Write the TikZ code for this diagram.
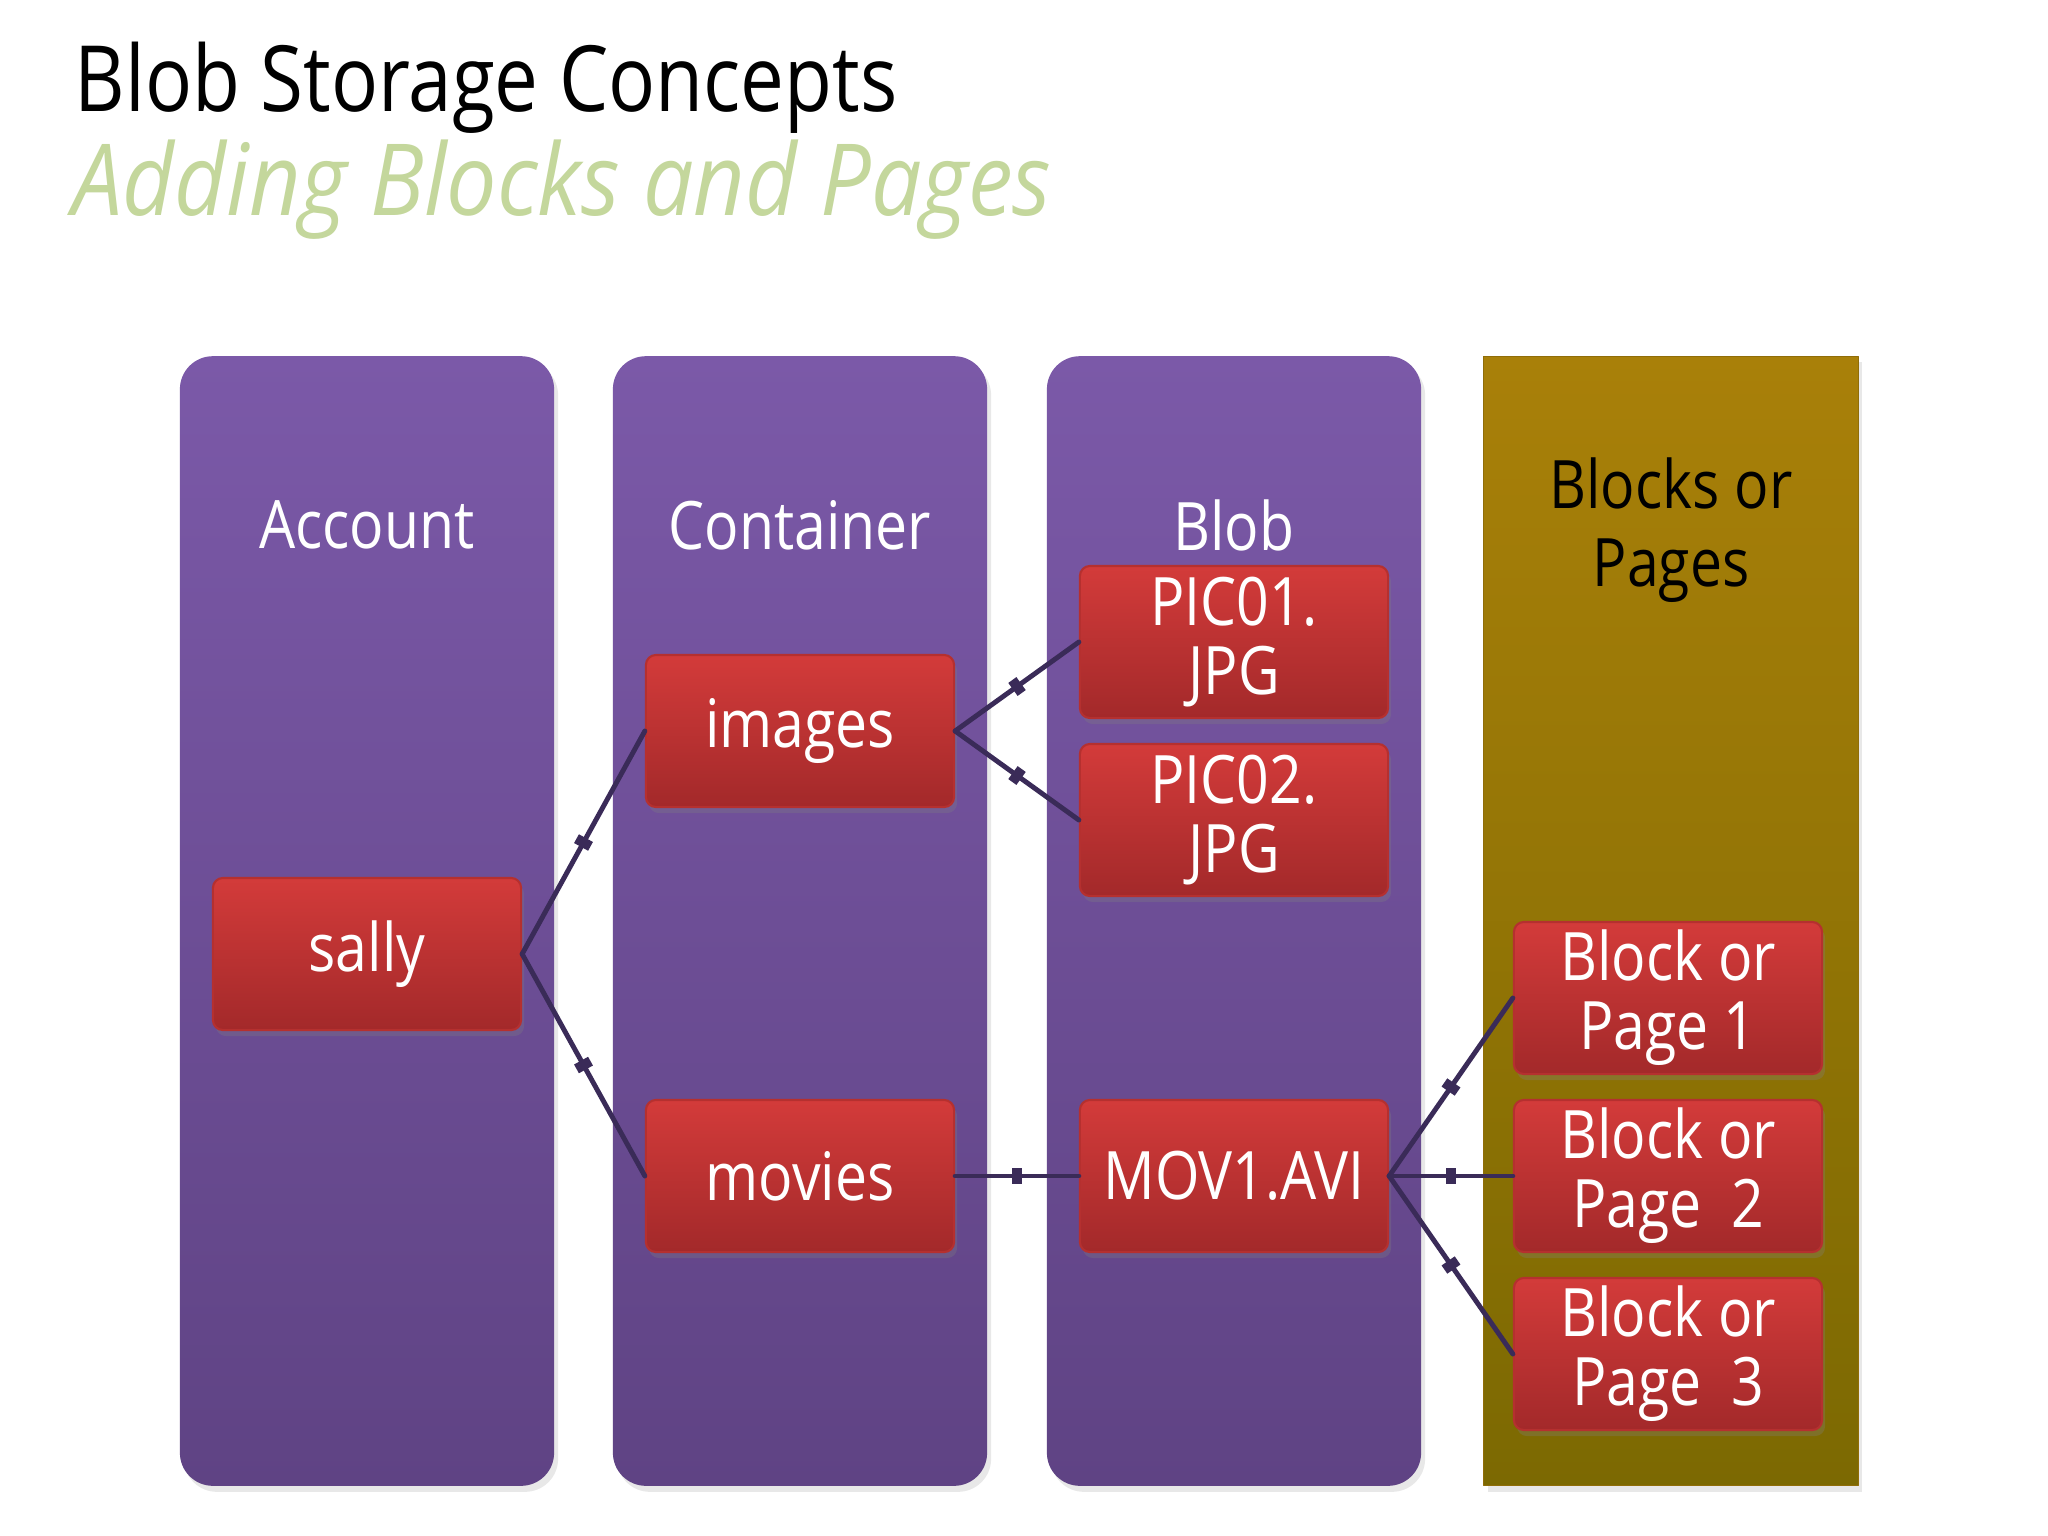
\documentclass[tikz,border=0pt]{standalone}
\usepackage{fontspec}
\setmainfont{Open Sans}[FakeStretch=0.855]
\newfontfamily\subfont{Open Sans}[FakeStretch=0.9]
\usetikzlibrary{positioning,shadows}
\definecolor{colTop}{HTML}{7B59A8}
\definecolor{colBot}{HTML}{5F4384}
\definecolor{goldTop}{HTML}{A98009}
\definecolor{goldBot}{HTML}{7C6902}
\definecolor{boxTop}{HTML}{D33B3A}
\definecolor{boxBot}{HTML}{A3292A}
\definecolor{boxEdge}{HTML}{B5302F}
\definecolor{linkc}{HTML}{3A2B58}
\definecolor{subgreen}{HTML}{C4D79C}
\begin{document}
\begin{tikzpicture}[x=0.01cm,y=-0.01cm,font=\fontsize{19}{23}\selectfont, line join=round, line cap=round]
	\tikzset{
		column/.style={rounded corners=0.33cm, minimum width=3.74cm, minimum height=11.29cm, inner sep=0pt, top color=colTop, bottom color=colBot, drop shadow={shadow xshift=0.4mm, shadow yshift=-0.6mm, opacity=0.18}},
		pagecol/.style={minimum width=3.74cm, minimum height=11.29cm, inner sep=0pt, top color=goldTop, bottom color=goldBot, draw=goldTop!85!black, line width=0.3pt, drop shadow={shadow xshift=0.4mm, shadow yshift=-0.6mm, opacity=0.18}},
		collabel/.style={text=white, align=center},
		item/.style={rounded corners=0.1cm, minimum width=3.08cm, minimum height=1.52cm, inner sep=0pt, top color=boxTop, bottom color=boxBot, draw=boxEdge, line width=0.6pt, text=white, align=center, font=\fontsize{19}{19.6}\selectfont, drop shadow={shadow xshift=0.3mm, shadow yshift=-0.6mm, opacity=0.3}},
		link/.style={draw=linkc, line width=1.4pt},
		tick/.style={sloped, fill=linkc, minimum width=0.1cm, minimum height=0.16cm, inner sep=0pt}
	}
	\useasboundingbox[fill=white] (0,0) rectangle (2048,1536);
	%% title
	\node[anchor=base west, inner sep=0pt, font=\fontsize{26}{30}\selectfont] (title) at (74,111) {Blob Storage Concepts};
	\node[anchor=base west, inner sep=0pt, text=subgreen, font=\subfont\fontsize{28.3}{30}\selectfont\itshape] (subtitle) at (72,215) {Adding Blocks and Pages};
	%% columns
	\node[column] (account) at (367,921) {};
	\node[column] (container) at (800,921) {};
	\node[column] (blob) at (1234,921) {};
	\node[pagecol] (pages) at (1671,921) {};
	\node[collabel] (lacc) at (367,525) {Account};
	\node[collabel] (lcon) at (800,525) {Container};
	\node[collabel] (lblob) at (1234,525) {Blob};
	\node[align=center, font=\fontsize{19}{22}\selectfont] (lpages) at (1671,530) {Blocks or\\Pages};
	%% items
	\node[item] (sally) at (367,954) {sally};
	\node[item] (images) at (800,731) {images};
	\node[item] (movies) at (800,1176) {movies};
	\node[item] (pic1) at (1234,642) {PIC01.\\JPG};
	\node[item] (pic2) at (1234,820) {PIC02.\\JPG};
	\node[item] (mov) at (1234,1176) {MOV1.AVI};
	\node[item] (bp1) at (1668,998) {Block or\\Page 1};
	\node[item] (bp2) at (1668,1176) {Block or\\Page\ \ 2};
	\node[item] (bp3) at (1668,1354) {Block or\\Page\ \ 3};
	%% links
	\foreach \a/\b in {sally/images, sally/movies, images/pic1, images/pic2, movies/mov, mov/bp1, mov/bp2, mov/bp3}
		\draw[link] (\a.east) -- node[tick, pos=.5] {} (\b.west);
\end{tikzpicture}
\end{document}
